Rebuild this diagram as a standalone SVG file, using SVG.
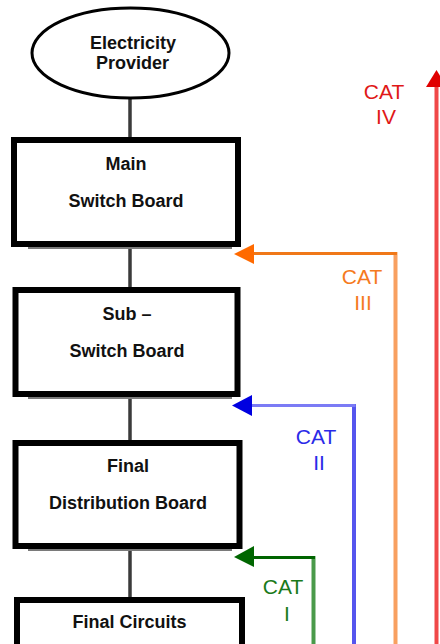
<svg xmlns="http://www.w3.org/2000/svg" width="440" height="644" viewBox="0 0 440 644">
<style>
.box{fill:#fff;stroke:#000;stroke-width:6}
.shadow{fill:#7a7a7a}
.lbl{font-family:"Liberation Sans",Arial,sans-serif;font-weight:bold;font-size:18px;fill:#111;text-anchor:middle}
.cat{font-family:"Liberation Sans",Arial,sans-serif;font-size:21px;text-anchor:middle}
.link{stroke:#3a3a3a;stroke-width:3.5;fill:none}
</style>
<rect width="440" height="644" fill="#fff"/>
<g id="connectors">
<line class="link" x1="130" y1="99" x2="130" y2="137"/>
<line class="link" x1="130" y1="247" x2="130" y2="287"/>
<line class="link" x1="130" y1="397" x2="130" y2="440"/>
<line class="link" x1="130" y1="549" x2="130" y2="597"/>
<g id="cat4">
<line x1="436.5" y1="644" x2="436.5" y2="85" stroke="#f04848" stroke-width="4"/>
<polygon points="436.5,70 426,87 447,87" fill="#e00000"/>
<text class="cat" x="384" y="99" fill="#e01818">CAT</text>
<text class="cat" x="386" y="124" fill="#e01818">IV</text>
</g>
<g id="cat3">
<line x1="395.5" y1="644" x2="395.5" y2="252" stroke="#f8a060" stroke-width="4"/>
<line x1="397" y1="253.5" x2="250" y2="253.5" stroke="#f07818" stroke-width="3"/>
<polygon points="234,254 254,244 254,264" fill="#ff6a00"/>
<text class="cat" x="362" y="284" fill="#f57a20">CAT</text>
<text class="cat" x="363" y="310" fill="#f57a20">III</text>
</g>
<g id="cat2">
<line x1="354" y1="644" x2="354" y2="404" stroke="#5555ee" stroke-width="4"/>
<line x1="355.5" y1="405.5" x2="248" y2="405.5" stroke="#7b7bf5" stroke-width="3"/>
<polygon points="232,405.5 252,395 252,416" fill="#0000e0"/>
<text class="cat" x="316" y="444" fill="#2a2ae8">CAT</text>
<text class="cat" x="319" y="470" fill="#2a2ae8">II</text>
</g>
<g id="cat1">
<line x1="313.5" y1="644" x2="313.5" y2="556" stroke="#4a9a4a" stroke-width="4"/>
<line x1="315" y1="557.5" x2="250" y2="557.5" stroke="#006400" stroke-width="3"/>
<polygon points="234,557 254,546 254,567" fill="#006600"/>
<text class="cat" x="283" y="594" fill="#1a7a1a">CAT</text>
<text class="cat" x="287" y="621" fill="#1a7a1a">I</text>
</g>
</g>
<g id="provider">
<ellipse cx="130.5" cy="53" rx="98.5" ry="45" fill="#fff" stroke="#000" stroke-width="3"/>
<text class="lbl" x="133" y="49">Electricity</text>
<text class="lbl" x="132.5" y="69">Provider</text>
</g>
<g id="main">
<rect class="shadow" x="28" y="244" width="204" height="5"/>
<rect class="box" x="14" y="140" width="224" height="104"/>
<text class="lbl" x="126" y="170">Main</text>
<text class="lbl" x="126" y="207">Switch Board</text>
</g>
<g id="sub">
<rect class="shadow" x="28" y="394" width="204" height="5"/>
<rect class="box" x="15.5" y="290" width="222" height="104"/>
<text class="lbl" x="127" y="320">Sub –</text>
<text class="lbl" x="127" y="357">Switch Board</text>
</g>
<g id="final-db">
<rect class="shadow" x="28" y="546" width="204" height="5"/>
<rect class="box" x="15.5" y="443" width="224" height="103"/>
<text class="lbl" x="128" y="472">Final</text>
<text class="lbl" x="128" y="509">Distribution Board</text>
</g>
<g id="final-circuits">
<rect class="box" x="17" y="600" width="225" height="60"/>
<text class="lbl" x="129.5" y="628">Final Circuits</text>
</g>
</svg>
